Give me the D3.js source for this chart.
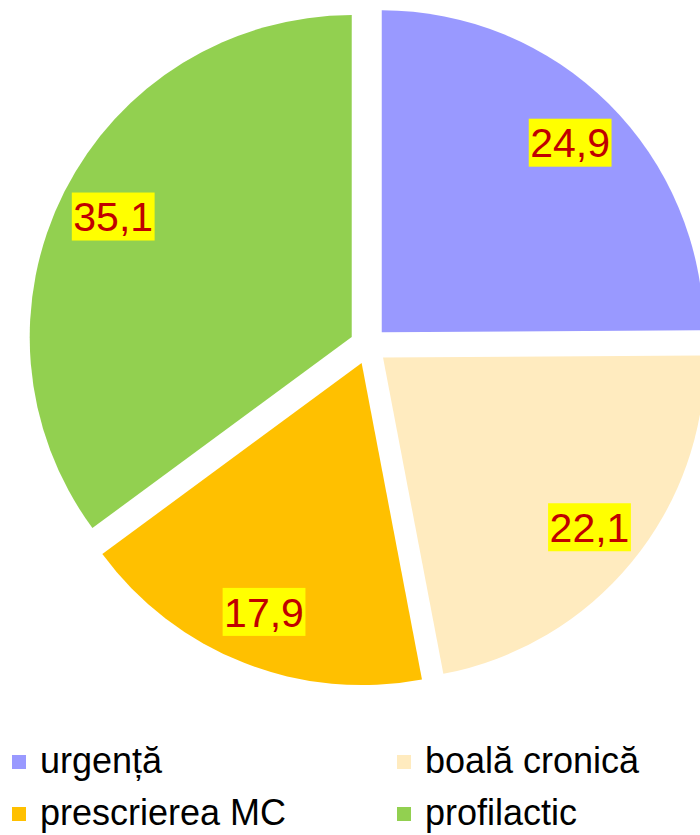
<!DOCTYPE html>
<html lang="ro">
	<head>
		<meta charset="utf-8">
		<title>Pie chart</title>
		<script src="https://cdn.jsdelivr.net/npm/d3@7/dist/d3.min.js"></script>
		<style>
			body { margin: 0; background: #fff; }
			text { font-family: "Liberation Sans", Arial, sans-serif; }
		</style>
	</head>
	<body>
		<script type="text/javascript">

			// data
			var categories = ["urgență", "boală cronică", "prescrierea MC", "profilactic"];
			var values = [24.9, 22.1, 17.9, 35.1];
			var labels = ["24,9", "22,1", "17,9", "35,1"];
			var colors = ["#9999FF", "#FFEBBF", "#FFC000", "#92D050"];

			var w = 700;
			var h = 835;
			var cx = 368.5, cy = 345.6;   // pie centre
			var r = 322;
			var explode = 18.8;
			var labelR = 0.83 * r;

			var svg = d3.select("body")
						.append("svg")
						.attr("width", w)
						.attr("height", h);

			var pie = d3.pie().sort(null).value(function(d) { return d; });
			var arcs = pie(values);

			var arc = d3.arc().innerRadius(0).outerRadius(r);

			function midDir(d) {
				var a = (d.startAngle + d.endAngle) / 2;
				return [Math.sin(a), -Math.cos(a)];
			}

			var slices = svg.append("g")
							.attr("transform", "translate(" + cx + "," + cy + ")")
							.selectAll("g.slice")
							.data(arcs)
							.enter()
							.append("g")
							.attr("class", "slice")
							.attr("transform", function(d) {
								var m = midDir(d);
								return "translate(" + (m[0] * explode) + "," + (m[1] * explode) + ")";
							});

			slices.append("path")
				.attr("d", arc)
				.attr("fill", function(d, i) { return colors[i]; });

			//labels with yellow box
			var lab = slices.append("g")
				.attr("transform", function(d) {
					var m = midDir(d);
					return "translate(" + (m[0] * labelR) + "," + (m[1] * labelR) + ")";
				});

			lab.append("rect").attr("fill", "#FFFF00");

			lab.append("text")
				.attr("text-anchor", "middle")
				.attr("dy", "0.36em")
				.style("font-size", "41px")
				.attr("fill", "#C00000")
				.text(function(d, i) { return labels[i]; });

			lab.each(function() {
				var g = d3.select(this);
				var tw = g.select("text").node().getComputedTextLength();
				g.select("rect")
					.attr("x", -tw / 2 - 1.5)
					.attr("y", -24)
					.attr("width", tw + 3)
					.attr("height", 48);
			});

			// legend
			var colX = [12, 397];
			var rowY = [762, 814];

			var legend = svg.selectAll("g.legend")
							.data(categories)
							.enter()
							.append("g")
							.attr("class", "legend")
							.attr("transform", function(d, i) {
								return "translate(" + colX[i % 2] + "," + rowY[Math.floor(i / 2)] + ")";
							});

			legend.append("rect")
				.attr("x", 0)
				.attr("y", -7)
				.attr("width", 14)
				.attr("height", 14)
				.attr("fill", function(d, i) { return colors[i]; });

			legend.append("text")
				.attr("x", 28)
				.attr("y", 11)
				.style("font-size", "36px")
				.attr("fill", "#000")
				.text(function(d) { return d; });

		</script>
	</body>
</html>
